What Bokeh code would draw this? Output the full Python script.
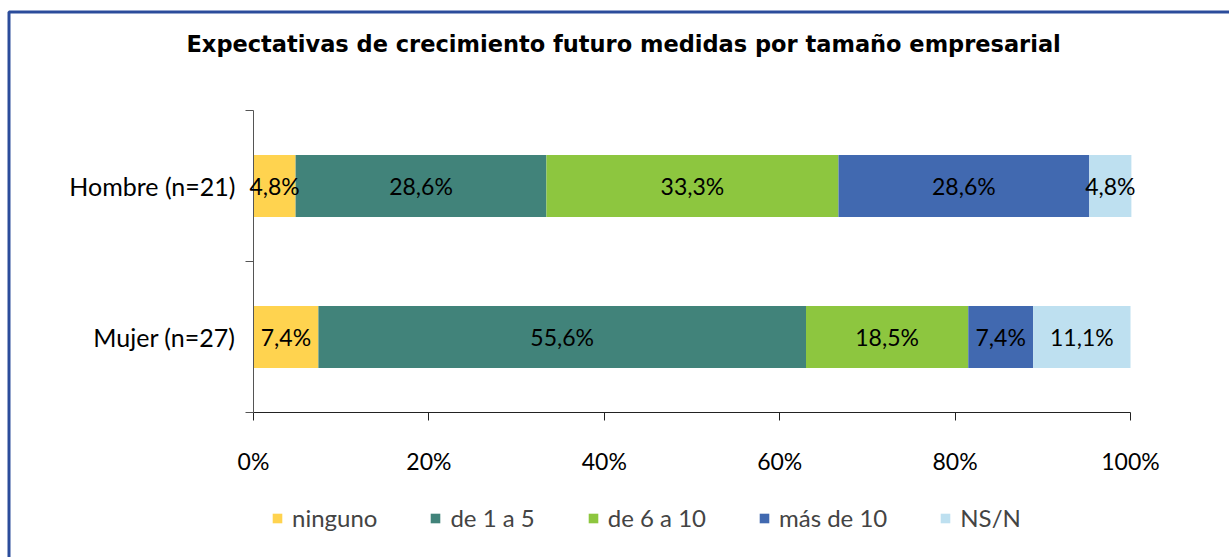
import numpy as np
from bokeh.plotting import figure
from bokeh.models import (ColumnDataSource, FixedTicker, PrintfTickFormatter, Range1d,
                          Legend, LegendItem, LabelSet, Label, BoxAnnotation)
from bokeh.core.properties import value
from bokeh.embed import file_html
from bokeh.resources import INLINE

# ---- data ----
categories = ["Mujer (n=27)", "Hombre (n=21)"]      # bottom to top
series = ["ninguno", "de 1 a 5", "de 6 a 10", "más de 10", "NS/N"]
mujer = [7.4, 55.6, 18.5, 7.4, 11.1]
hombre = [4.8, 28.6, 33.3, 28.6, 4.8]
colors = ["#FFD34F", "#41837A", "#8DC63F", "#4169B0", "#BEE0F0"]
x_ticks = [0, 20, 40, 60, 80, 100]
title_text = "Expectativas de crecimiento futuro medidas por tamaño empresarial"

FONT = "Lato"

# ---- layout (pixels) ----
W, H = 1229, 557
PX_L, PX_R, PX_T, PX_B = 253, 1130, 110, 412     # plotting box of the bars
sx = (PX_R - PX_L) / 100.0
sy = (PX_B - PX_T) / 2.0
x0 = -PX_L / sx
x1 = 100 + (W - PX_R) / sx
y0 = -(H - PX_B) / sy
y1 = 2 + PX_T / sy

def dx(px):
    return (px - PX_L) / sx

def dy(py):
    return 2 + (PX_T - py) / sy

p = figure(width=W, height=H, output_backend="svg", toolbar_location=None,
           title=None, x_range=Range1d(x0, x1), y_range=Range1d(y0, y1),
           min_border=0, min_border_left=0, min_border_right=0,
           min_border_top=0, min_border_bottom=0)
p.outline_line_color = None
p.xgrid.visible = False
p.ygrid.visible = False

rows = [mujer, hombre]
renderers = []
for j, name in enumerate(series):
    lefts, rights, ys, labels, mids = [], [], [], [], []
    for i, row in enumerate(rows):
        left = float(np.sum(row[:j]))
        right = left + row[j]
        lefts.append(left)
        rights.append(right)
        ys.append(i + 0.5)
        mids.append((left + right) / 2)
        labels.append(("%.1f" % row[j]).replace(".", ",") + "%")
    src = ColumnDataSource(dict(left=lefts, right=rights, y=ys, mid=mids, label=labels))
    r = p.hbar(y="y", left="left", right="right", height=0.41, source=src,
               fill_color=colors[j], line_color=None)
    renderers.append(r)
    ls = LabelSet(x="mid", y="y", text="label", source=src, text_align="center",
                  text_baseline="middle", text_font=value(FONT), text_font_size=value("23px"),
                  text_color="black")
    p.add_layout(ls)

# x axis (drawn inside the canvas at y = 0)
xa = p.xaxis[0]
xa.fixed_location = 0
xa.bounds = (0, 100)
xa.ticker = FixedTicker(ticks=x_ticks)
xa.formatter = PrintfTickFormatter(format="%d%%")
xa.major_tick_in = 0
xa.major_tick_out = 8
xa.minor_tick_out = 0
xa.minor_tick_in = 0
xa.axis_line_color = "#222222"
xa.major_tick_line_color = "#222222"
xa.major_label_text_font = FONT
xa.major_label_text_font_size = "23px"
xa.major_label_text_color = "black"
xa.major_label_standoff = 26

# y axis (drawn at x = 0)
ya = p.yaxis[0]
ya.fixed_location = 0
ya.bounds = (0, 2)
ya.ticker = FixedTicker(ticks=[0.5, 1.5], minor_ticks=[0, 1, 2])
ya.major_label_overrides = {0.5: categories[0], 1.5: categories[1]}
ya.major_tick_in = 0
ya.major_tick_out = 0
ya.minor_tick_in = 0
ya.minor_tick_out = 8
ya.axis_line_color = "#555555"
ya.minor_tick_line_color = "#555555"
ya.major_label_text_font = FONT
ya.major_label_text_font_size = "25px"
ya.major_label_text_color = "black"
ya.major_label_standoff = 10

# title
p.add_layout(Label(x=dx(186), y=dy(43), text=title_text, text_align="left",
                   text_baseline="middle", text_font="DejaVu Sans",
                   text_font_size="22.5px", text_font_style="bold", text_color="black"))

# outer blue frame (only left and top edges visible in the window)
p.add_layout(BoxAnnotation(left=dx(8.5), top=dy(11.5), right=dx(W + 60), bottom=dy(H + 60),
                           fill_alpha=0, line_color="#2B4C9B", line_alpha=1.0, line_width=3))

legend = Legend(items=[LegendItem(label=s, renderers=[r]) for s, r in zip(series, renderers)],
                orientation="horizontal", location=(271, 25),
                glyph_width=12, glyph_height=12, label_standoff=9, spacing=52,
                label_text_font=FONT, label_text_font_size="24px",
                border_line_color=None, background_fill_alpha=0, padding=0, margin=0)
p.add_layout(legend, "center")

open("out.html", "w").write(file_html(p, INLINE))
